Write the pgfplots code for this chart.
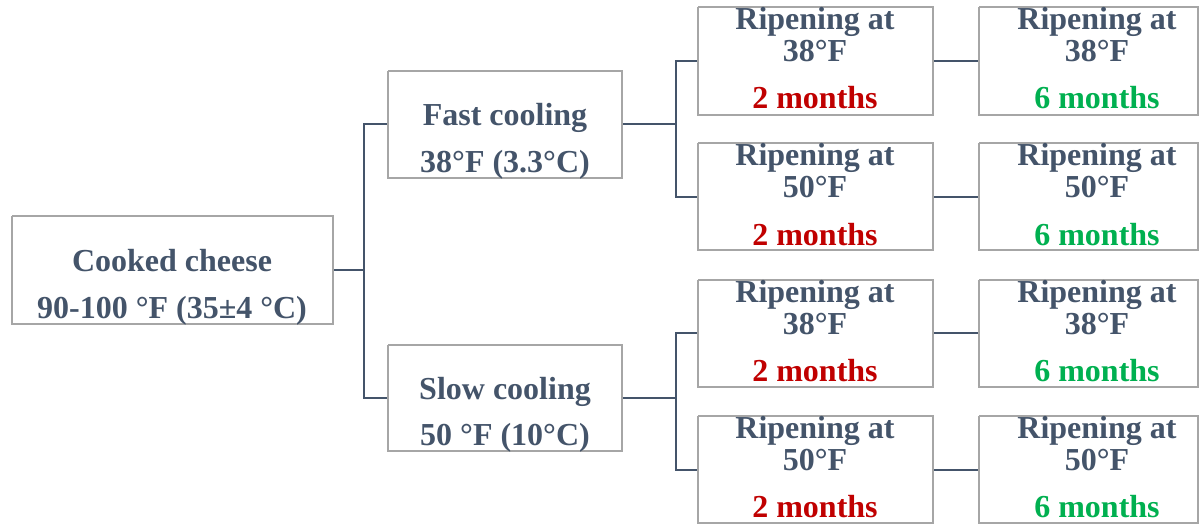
\documentclass[border=0pt]{standalone}
\usepackage{pgfplots}
\pgfplotsset{compat=1.18}
\usepackage{fontspec}
\setmainfont{Liberation Serif}
\definecolor{slate}{HTML}{44546A}
\definecolor{dred}{HTML}{C00000}
\definecolor{dgreen}{HTML}{00B050}
\definecolor{bgray}{HTML}{A6A6A6}
\newcommand{\bx}[4]{\addplot[draw=bgray,line width=0.75pt,fill=white] coordinates {(#1,#2) (#3,#2) (#3,#4) (#1,#4) (#1,#2)};}
\newcommand{\lnk}[1]{\addplot[draw=slate,line width=1.4pt] coordinates {#1};}
\newcommand{\tx}[4]{\node[anchor=base,text=#4,inner sep=0pt,font=\bfseries\fontsize{16}{16}\selectfont] at (axis cs:#1,#2) {#3};}
\begin{document}
\begin{tikzpicture}
\begin{axis}[scale only axis, width=600pt, height=262pt,
  xmin=0, xmax=1200, ymin=0, ymax=524, y dir=reverse,
  hide axis, clip=false]
\path (axis cs:0,0) rectangle (axis cs:1200,524);
% connectors
\lnk{(333,270) (364,270)}
\lnk{(388,124) (364,124) (364,398) (388,398)}
\lnk{(622,124) (676,124)}
\lnk{(698,61) (676,61) (676,197) (698,197)}
\lnk{(622,398) (676,398)}
\lnk{(698,333) (676,333) (676,470) (698,470)}
\lnk{(933,61) (979,61)}
\lnk{(933,197) (979,197)}
\lnk{(933,333) (979,333)}
\lnk{(933,470) (979,470)}
% boxes
\bx{12}{216}{333}{324}
\bx{388}{71}{622}{178}
\bx{388}{345}{622}{451}
\bx{698}{7}{933}{115}
\bx{698}{143}{933}{250}
\bx{698}{280}{933}{387}
\bx{698}{416}{933}{523}
\bx{979}{7}{1198}{115}
\bx{979}{143}{1198}{250}
\bx{979}{280}{1198}{387}
\bx{979}{416}{1198}{523}
% texts
\tx{172}{271}{Cooked cheese}{slate}
\tx{172}{318}{90-100 °F (35±4 °C)}{slate}
\tx{505}{126}{Fast cooling}{slate}
\tx{505}{172}{38°F (3.3°C)}{slate}
\tx{505}{399}{Slow cooling}{slate}
\tx{505}{445}{50 °F (10°C)}{slate}
\tx{815}{30}{Ripening at}{slate}
\tx{815}{62}{38°F}{slate}
\tx{815}{109}{2 months}{dred}
\tx{815}{166}{Ripening at}{slate}
\tx{815}{198}{50°F}{slate}
\tx{815}{245}{2 months}{dred}
\tx{815}{302}{Ripening at}{slate}
\tx{815}{334}{38°F}{slate}
\tx{815}{381}{2 months}{dred}
\tx{815}{438}{Ripening at}{slate}
\tx{815}{470}{50°F}{slate}
\tx{815}{517}{2 months}{dred}
\tx{1097}{30}{Ripening at}{slate}
\tx{1097}{62}{38°F}{slate}
\tx{1097}{109}{6 months}{dgreen}
\tx{1097}{166}{Ripening at}{slate}
\tx{1097}{198}{50°F}{slate}
\tx{1097}{245}{6 months}{dgreen}
\tx{1097}{302}{Ripening at}{slate}
\tx{1097}{334}{38°F}{slate}
\tx{1097}{381}{6 months}{dgreen}
\tx{1097}{438}{Ripening at}{slate}
\tx{1097}{470}{50°F}{slate}
\tx{1097}{517}{6 months}{dgreen}
\end{axis}
\end{tikzpicture}
\end{document}
